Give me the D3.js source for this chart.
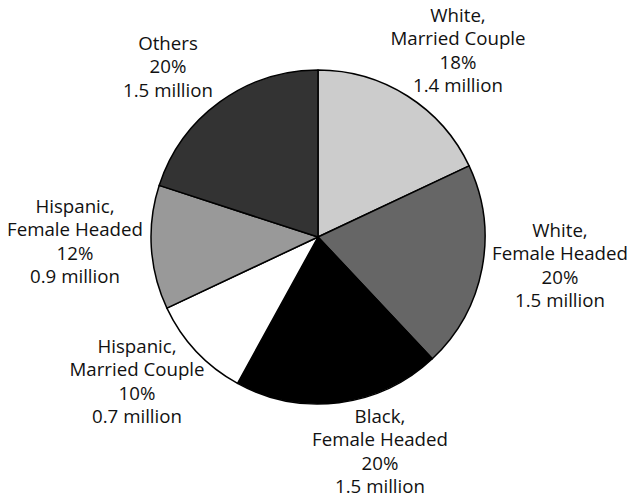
<!DOCTYPE html>
<html>
<head>
<meta charset="utf-8">
<script src="https://cdn.jsdelivr.net/npm/d3@7"></script>
<style>
  html, body { margin: 0; padding: 0; background: #fff; }
  svg { display: block; }
  .lbl { font-family: "Open Sans", Lato, sans-serif; font-size: 18.7px; fill: #111; }
</style>
</head>
<body>
<svg id="chart" width="631" height="500"></svg>
<script>
// Families in poverty by race/ethnicity and household type
const groups  = ["White", "White", "Black", "Hispanic", "Hispanic", "Others"];
const types   = ["Married Couple", "Female Headed", "Female Headed", "Married Couple", "Female Headed", ""];
const shares  = [18, 20, 20, 10, 12, 20];           // percent of all poor families
const millions = ["1.4", "1.5", "1.5", "0.7", "0.9", "1.5"];
const fills   = ["#cccccc", "#666666", "#000000", "#ffffff", "#999999", "#333333"];

// Label anchors (centre of each text block, first-line baseline), relative to the pie centre
const labelAnchor = [
  [140, -215], [242, 0], [62, 186], [-181, 116], [-243, -24], [-150, -187]
];

const cx = 318, cy = 237, radius = 167, lineH = 23.3;

const svg = d3.select("#chart");
const g = svg.append("g").attr("transform", `translate(${cx},${cy})`);

const data = shares.map((v, i) => ({
  group: groups[i], type: types[i], value: v, amount: millions[i], fill: fills[i], anchor: labelAnchor[i]
}));

const pie = d3.pie().value(d => d.value).sort(null).startAngle(0).endAngle(2 * Math.PI);
const arc = d3.arc().innerRadius(0).outerRadius(radius);

g.selectAll("path.slice")
  .data(pie(data))
  .join("path")
  .attr("class", "slice")
  .attr("d", arc)
  .attr("fill", d => d.data.fill)
  .attr("stroke", "#000")
  .attr("stroke-width", 1.5)
  .attr("stroke-linejoin", "round");

const labels = g.selectAll("text.lbl")
  .data(pie(data))
  .join("text")
  .attr("class", "lbl")
  .attr("text-anchor", "middle")
  .attr("transform", d => `translate(${d.data.anchor[0]},${d.data.anchor[1]})`);

labels.each(function(d) {
  const lines = d.data.type
    ? [d.data.group + ",", d.data.type]
    : [d.data.group];
  lines.push(d.data.value + "%", d.data.amount + " million");
  d3.select(this).selectAll("tspan")
    .data(lines)
    .join("tspan")
    .attr("x", 0)
    .attr("y", (t, i) => i * lineH)
    .text(t => t);
});
</script>
</body>
</html>
